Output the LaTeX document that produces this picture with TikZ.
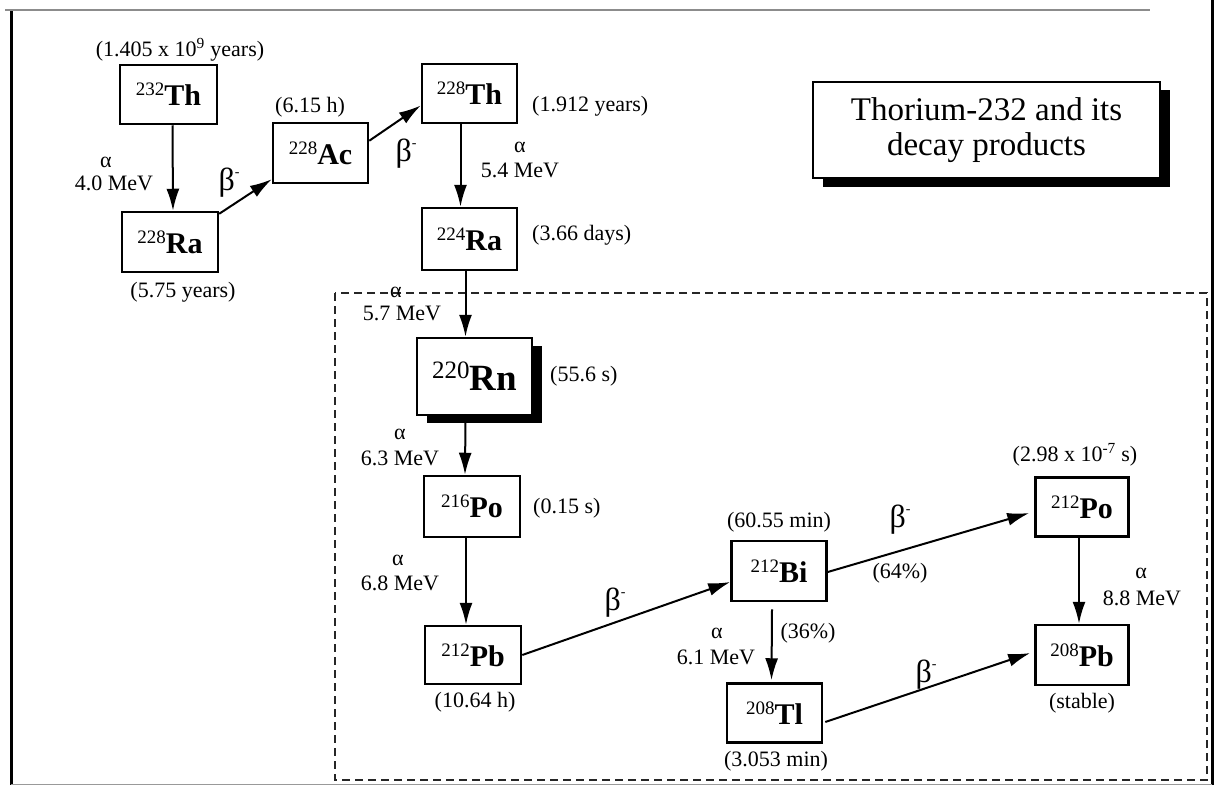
\documentclass[tikz,border=0pt]{standalone}
\usepackage{fontspec}
\setmainfont{Liberation Serif}
\usetikzlibrary{arrows.meta,calc}
\newcommand\nucl[2]{{\fontsize{19}{19}\selectfont\raisebox{10pt}{#1}}{\fontsize{30}{30}\selectfont\bfseries #2}}
\newcommand\bigbeta{β\raisebox{14pt}{\fontsize{14}{14}\selectfont -}}
\begin{document}
\begin{tikzpicture}[x=1pt,y=-1pt,
  nbox/.style={draw, fill=white, line width=2.5pt, inner sep=0pt, minimum width=95pt, minimum height=60pt},
  lbl/.style={font=\fontsize{22}{22}\selectfont, inner sep=0pt},
  betalbl/.style={font=\fontsize{32}{32}\selectfont, inner sep=0pt},
  dk/.style={line width=2pt, -{Latex[length=22pt,width=13pt]}},
]
\useasboundingbox (0,0) rectangle (1217,785);
\fill[white] (0,0) rectangle (1217,785);
% page frame
\draw[line width=3pt] (11,10) -- (11,785);
\draw[line width=3pt] (1212,0) -- (1212,785);
\draw[black!45, line width=1.5pt] (5,10) -- (1150,10);
\draw[black!40, line width=1pt] (11,784) -- (1212,784);

% dashed region
\draw[black!85, line width=2pt, dash pattern=on 8pt off 5pt] (335,293) rectangle (1207,780);

% title
\fill[black] (823,90) rectangle (1170,187);
\node[draw, fill=white, line width=1.5pt, minimum width=347pt, minimum height=96pt, inner sep=0pt,
  align=center, font=\fontsize{33}{35}\selectfont] (title) at (986.5,130) {Thorium-232 and its\\decay products};

% nuclide boxes
\node[nbox, minimum width=97pt, minimum height=59pt] (th232) at (168.5,94.5) {\nucl{232}{Th}};
\node[nbox, minimum width=96pt] (ra228) at (170,242) {\nucl{228}{Ra}};
\node[nbox] (ac228) at (320.5,153) {\nucl{228}{Ac}};
\node[nbox, minimum height=59pt] (th228) at (469.5,93.5) {\nucl{228}{Th}};
\node[nbox, minimum height=62pt] (ra224) at (469.5,239) {\nucl{224}{Ra}};
\fill[black] (427,346) rectangle (542,423);
\node[nbox, minimum width=115pt, minimum height=77pt] (rn220) at (474.5,376.5)
  {{\fontsize{25}{25}\selectfont\raisebox{12pt}{220}}{\fontsize{37}{37}\selectfont\bfseries Rn}};
\node[nbox, minimum width=96pt, minimum height=61pt] (po216) at (472,506.5) {\nucl{216}{Po}};
\node[nbox, minimum width=96pt, minimum height=58pt] (pb212) at (473,655) {\nucl{212}{Pb}};
\node[nbox] (bi212) at (779,571) {\nucl{212}{Bi}};
\node[nbox, minimum height=59pt] (tl208) at (774.5,713) {\nucl{208}{Tl}};
\node[nbox, minimum width=93pt, minimum height=59pt] (po212) at (1082,507) {\nucl{212}{Po}};
\node[nbox, minimum width=93pt] (pb208) at (1082,655) {\nucl{208}{Pb}};

% half-lives
\node[lbl] (hth232) at (180,50) {(1.405 x 10\textsuperscript{9} years)};
\node[lbl] (hra228) at (183,292) {(5.75 years)};
\node[lbl] (hac228) at (310,107) {(6.15 h)};
\node[lbl, anchor=west] (hth228) at (532,106) {(1.912 years)};
\node[lbl, anchor=west] (hra224) at (532,235) {(3.66 days)};
\node[lbl, anchor=west] (hrn220) at (550,376) {(55.6 s)};
\node[lbl, anchor=west] (hpo216) at (533,508) {(0.15 s)};
\node[lbl] (hpb212) at (475,702) {(10.64 h)};
\node[lbl] (hbi212) at (779,522) {(60.55 min)};
\node[lbl] (htl208) at (776,761) {(3.053 min)};
\node[lbl] (hpo212) at (1075,455) {(2.98 x 10\textsuperscript{-7} s)};
\node[lbl] (hpb208) at (1082,703) {(stable)};

% decays
\draw[dk] ($(th232.south)+(4,0)$) -- ($(ra228.north)+(3,0)$);
\node[lbl] (a1) at (106,162) {α};
\node[lbl] (e1) at (114,183) {4.0 MeV};

\draw[dk] ($(ra228.north east)+(0,3)$) -- ($(ac228.south west)+(0,-5)$);
\node[betalbl] (b1) at (229,183) {\bigbeta};

\draw[dk] ($(ac228.north east)+(0,19)$) -- ($(th228.west)+(0,12)$);
\node[betalbl] (b2) at (406,154) {\bigbeta};

\draw[dk] ($(th228.south)+(-9,0)$) -- ($(ra224.north)+(-9,0)$);
\node[lbl] (a2) at (520,147) {α};
\node[lbl] (e2) at (520,170) {5.4 MeV};

\draw[dk] ($(ra224.south)+(-4,0)$) -- ($(rn220.north)+(-9,0)$);
\node[lbl] (a3) at (396,292) {α};
\node[lbl] (e3) at (402,313) {5.7 MeV};

\draw[dk] ($(rn220.south)+(-9,0)$) -- ($(po216.north)+(-7,0)$);
\node[lbl] (a4) at (400,434) {α};
\node[lbl] (e4) at (400,458) {6.3 MeV};

\draw[dk] ($(po216.south)+(-6,0)$) -- ($(pb212.north)+(-7,0)$);
\node[lbl] (a5) at (398,560) {α};
\node[lbl] (e5) at (400,583) {6.8 MeV};

\draw[dk] (pb212.east) -- ($(bi212.west)+(0,11)$);
\node[betalbl] (b3) at (615,603) {\bigbeta};

\draw[dk] ($(bi212.east)+(0,1)$) -- ($(po212.west)+(-5,6)$);
\node[betalbl] (b4) at (900,520) {\bigbeta};
\node[lbl] (p64) at (900,573) {(64\%)};

\draw[dk] ($(bi212.south)+(-7,7)$) -- ($(tl208.north)+(-3,-2)$);
\node[lbl] (a6) at (717,633) {α};
\node[lbl] (e6) at (716,657) {6.1 MeV};
\node[lbl] (p36) at (808,633) {(36\%)};

\draw[dk] ($(po212.south)+(-3,0)$) -- ($(pb208.north)+(-3,0)$);
\node[lbl] (a7) at (1141,573) {α};
\node[lbl] (e7) at (1142,598) {8.8 MeV};

\draw[dk] ($(tl208.east)+(2,9)$) -- ($(pb208.west)+(-4,-2)$);
\node[betalbl] (b5) at (926,675) {\bigbeta};
\end{tikzpicture}
\end{document}
